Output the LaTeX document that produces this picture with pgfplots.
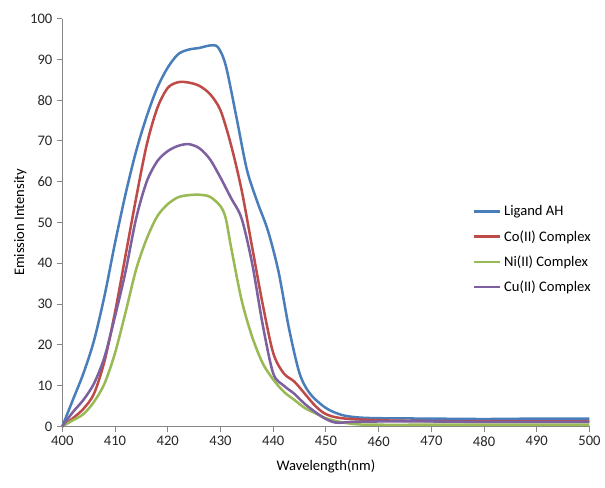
\documentclass[border=0pt]{standalone}
\usepackage{pgfplots}
\pgfplotsset{compat=1.18}
\usepackage{fontspec}
\setmainfont{Carlito}
\definecolor{cBlue}{HTML}{4A7EBB}
\definecolor{cRed}{HTML}{BE4B48}
\definecolor{cGreen}{HTML}{98B954}
\definecolor{cPurple}{HTML}{7D60A0}
\definecolor{axgray}{HTML}{868686}
\begin{document}
\begin{tikzpicture}
\begin{axis}[
  scale only axis, width=397.5pt, height=307.5pt,
  xmin=400, xmax=500, ymin=0, ymax=100,
  axis lines=left, axis line style={draw=axgray, line width=0.8pt, -},
  xtick={400,410,...,500}, ytick={0,10,...,100},
  tick style={draw=axgray, line width=0.8pt}, tick align=outside,
  major tick length=4pt,
  tick label style={font=\fontsize{11}{13}\selectfont, text=black!85},
  /pgf/number format/assume math mode=true,
  xlabel={Wavelength(nm)}, ylabel={Emission Intensity},
  label style={font=\fontsize{11}{13}\selectfont},
  xlabel style={yshift=-3pt},
  ylabel style={yshift=-4pt},
  legend style={draw=none, fill=none, at={(0.77,0.555)}, anchor=north west,
    font=\fontsize{11}{13}\selectfont, row sep=5.5pt,
    legend cell align=left},
  legend image code/.code={\draw[#1] (0pt,0pt) -- (20pt,0pt);},
  every axis plot/.append style={line width=1.9pt, smooth, tension=0.5, no markers},
  clip=false,
]
\addplot[cBlue] coordinates {(400,0) (402,6.5) (404,13) (406,21) (408,32) (410,45) (412,57) (414,67.5) (416,76) (418,83) (420,88) (422,91.3) (424,92.4) (426,92.8) (428,93.4) (429.5,93) (431,88.5) (433,76) (435,63) (437,55) (439,48) (441,38) (443,24) (445,13) (447,8) (450,4.5) (453,2.8) (456,2.2) (460,2) (470,1.9) (480,1.8) (490,1.9) (500,1.9)};
\addplot[cRed] coordinates {(400,0) (402,2) (404,4.3) (406,8) (408,16) (410,28) (412,42) (414,56) (416,69) (418,78) (420,83) (422,84.4) (424,84.3) (426,83.5) (428,81.5) (430,77.5) (432,69) (434,58) (436,44) (438,30) (440,18) (442,13) (444,11) (446,8) (448,5) (450,3) (453,2) (460,1.5) (470,1.3) (480,1.2) (490,1.2) (500,1.2)};
\addplot[cGreen] coordinates {(400,0) (402,1.5) (404,3) (406,6) (408,10.5) (410,18) (412,28) (414,38.5) (416,46) (418,51.5) (420,54.5) (422,56.2) (424,56.7) (426,56.8) (428,56.3) (430,54) (431,51) (432,44) (434,31) (436,22) (438,15.5) (440,11.5) (442,8.5) (444,6.5) (446,4.5) (448,3.2) (450,2) (453,1) (456,0.5) (460,0.4) (470,0.4) (480,0.4) (490,0.4) (500,0.4)};
\addplot[cPurple] coordinates {(400,0) (402,3.5) (404,6.5) (406,10.5) (408,17) (410,27) (412,38) (414,51) (416,60) (418,65) (420,67.5) (422,68.8) (424,69.2) (426,68.2) (428,65.5) (430,61) (432,56) (434,51) (436,40) (438,25) (440,13) (442,10) (444,8) (446,5.5) (448,3.5) (450,1.8) (452,0.9) (455,1.1) (460,1.2) (470,1.2) (480,1.1) (490,1.1) (500,1.1)};
\legend{Ligand AH, Co(II) Complex, Ni(II) Complex, Cu(II) Complex}
\path (rel axis cs:0,0) ++(-47pt,-46pt) (rel axis cs:1,1) ++(9pt,14pt);
\end{axis}
\end{tikzpicture}
\end{document}
